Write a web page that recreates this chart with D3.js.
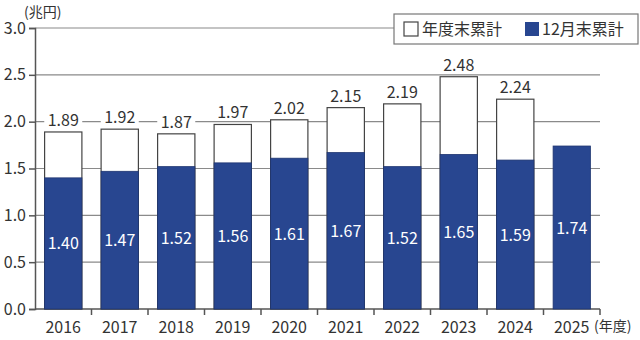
<!DOCTYPE html>
<html><head><meta charset="utf-8">
<script src="https://cdn.jsdelivr.net/npm/d3@7"></script>
<style>
html,body{margin:0;padding:0;background:#fff;}
text{font-family:"Noto Sans CJK JP","Noto Sans",sans-serif;}
</style></head>
<body><svg id="chart" width="640" height="340"></svg>
<script>
// 年度別の累計額（兆円）
const years = ["2016","2017","2018","2019","2020","2021","2022","2023","2024","2025"];
const fiscalTotal = [1.89, 1.92, 1.87, 1.97, 2.02, 2.15, 2.19, 2.48, 2.24, null];
const decemberTotal = [1.40, 1.47, 1.52, 1.56, 1.61, 1.67, 1.52, 1.65, 1.59, 1.74];
const yTicks = [0, 0.5, 1.0, 1.5, 2.0, 2.5, 3.0];
const legendLabels = ["年度末累計", "12月末累計"];

const blue = "#284690", axisCol = "#555", gridCol = "#8a8a8a", textCol = "#333";
const svg = d3.select("#chart");
const plotLeft = 35, plotRight = 600, plotTop = 28, plotBottom = 309;

const x = d3.scaleBand().domain(years).range([plotLeft, plotRight]).paddingInner(0.34).paddingOuter(0.17);
const y = d3.scaleLinear().domain([0, 3]).range([plotBottom, plotTop]);

// grid lines
svg.append("g").selectAll("line").data(yTicks.slice(1)).join("line")
  .attr("x1", plotLeft).attr("x2", plotRight)
  .attr("y1", d => y(d)).attr("y2", d => y(d))
  .attr("stroke", gridCol).attr("stroke-width", 1.2);

// y axis
const yAxis = svg.append("g").attr("transform", `translate(${plotLeft},0)`)
  .call(d3.axisLeft(y).tickValues(yTicks).tickFormat(d3.format(".1f")).tickSize(6).tickPadding(3));
yAxis.select(".domain").attr("stroke", axisCol).attr("stroke-width", 1.5);
yAxis.selectAll(".tick line").attr("stroke", axisCol).attr("stroke-width", 1.5);
yAxis.selectAll(".tick text").attr("fill", textCol).style("font-size", "16px").attr("font-family", null);

// x axis with ticks at category boundaries
const xAxisG = svg.append("g").attr("transform", `translate(0,${plotBottom})`);
xAxisG.append("line").attr("x1", plotLeft).attr("x2", plotRight).attr("stroke", axisCol).attr("stroke-width", 1.5);
const step = x.step();
const bounds = years.map((d, i) => plotLeft + step * (i + 1));
xAxisG.selectAll("line.tk").data(bounds).join("line").attr("class", "tk")
  .attr("x1", d => d).attr("x2", d => d).attr("y1", 0).attr("y2", 6)
  .attr("stroke", axisCol).attr("stroke-width", 1.5);
xAxisG.selectAll("text").data(years).join("text")
  .attr("x", d => x(d) + x.bandwidth() / 2).attr("y", 24)
  .attr("text-anchor", "middle").attr("fill", textCol).style("font-size", "16px")
  .text(d => d);

// fiscal-year totals (white bars)
const fy = years.map((d, i) => ({year: d, v: fiscalTotal[i]})).filter(d => d.v != null);
svg.append("g").selectAll("rect").data(fy).join("rect")
  .attr("x", d => x(d.year)).attr("width", x.bandwidth())
  .attr("y", d => y(d.v)).attr("height", d => y(0) - y(d.v))
  .attr("fill", "#fff").attr("stroke", "#444").attr("stroke-width", 1.2);

// December totals (blue bars)
const dec = years.map((d, i) => ({year: d, v: decemberTotal[i]}));
svg.append("g").selectAll("rect").data(dec).join("rect")
  .attr("x", d => x(d.year)).attr("width", x.bandwidth())
  .attr("y", d => y(d.v)).attr("height", d => y(0) - y(d.v))
  .attr("fill", blue).attr("stroke", "#1e3570").attr("stroke-width", 0.8);

// value labels inside blue bars
svg.append("g").selectAll("text").data(dec).join("text")
  .attr("x", d => x(d.year) + x.bandwidth() / 2).attr("y", d => y(d.v / 2) + 6)
  .attr("text-anchor", "middle").attr("fill", "#fff").style("font-size", "16px")
  .text(d => d.v.toFixed(2));

// value labels above white bars, with a backing box over the grid
const topLbl = svg.append("g").selectAll("g").data(fy).join("g")
  .attr("transform", d => `translate(${x(d.year) + x.bandwidth() / 2},${y(d.v) - 6})`);
topLbl.append("rect").attr("x", -19).attr("y", -15).attr("width", 38).attr("height", 16).attr("fill", "#fff");
topLbl.append("text").attr("text-anchor", "middle").attr("fill", textCol).style("font-size", "16px")
  .text(d => d.v.toFixed(2));

// unit labels
svg.append("text").attr("x", 24).attr("y", 17).attr("fill", textCol).style("font-size", "14px").text("(兆円)");
svg.append("text").attr("x", 594).attr("y", 331).attr("fill", textCol).style("font-size", "14px").text("(年度)");

// legend
const lg = svg.append("g").attr("transform", "translate(394,14)");
lg.append("rect").attr("width", 244).attr("height", 30).attr("fill", "#fff").attr("stroke", "#777").attr("stroke-width", 1.2);
lg.append("rect").attr("x", 10).attr("y", 8).attr("width", 14).attr("height", 14).attr("fill", "#fff").attr("stroke", "#444").attr("stroke-width", 1.2);
lg.append("text").attr("x", 28).attr("y", 21).attr("fill", textCol).style("font-size", "16px").text(legendLabels[0]);
lg.append("rect").attr("x", 131).attr("y", 8).attr("width", 14).attr("height", 14).attr("fill", blue);
lg.append("text").attr("x", 148).attr("y", 21).attr("fill", textCol).style("font-size", "16px").text(legendLabels[1]);
</script></body></html>
